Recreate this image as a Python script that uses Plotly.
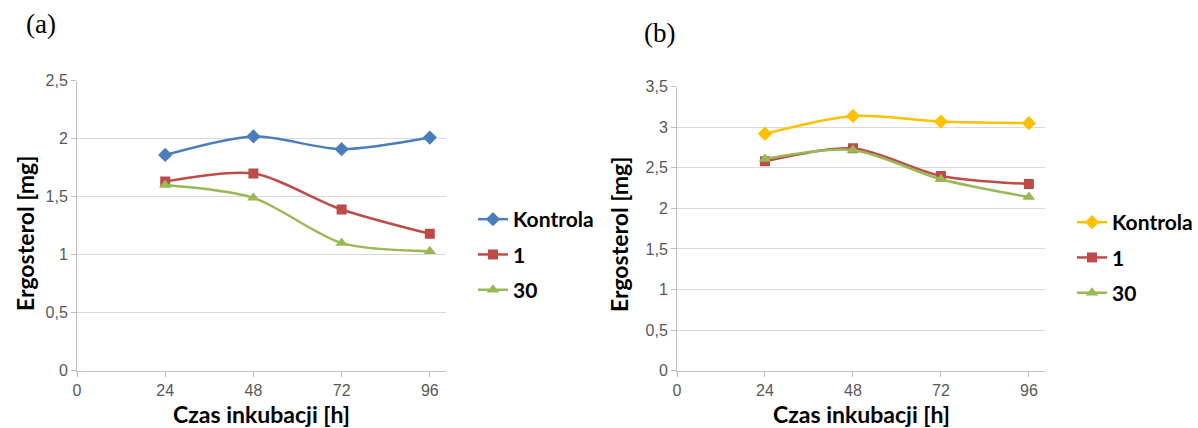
import plotly.graph_objects as go

hours = [24, 48, 72, 96]
series_names = ["Kontrola", "1", "30"]
a_kontrola = [1.86, 2.02, 1.91, 2.01]
a_1 = [1.63, 1.70, 1.39, 1.18]
a_30 = [1.60, 1.49, 1.10, 1.03]
b_kontrola = [2.92, 3.14, 3.07, 3.05]
b_1 = [2.58, 2.74, 2.40, 2.30]
b_30 = [2.61, 2.72, 2.36, 2.14]

x_ticks = [0, 24, 48, 72, 96]
a_yticks = [0, 0.5, 1, 1.5, 2, 2.5]
a_yticklabels = ["0", "0,5", "1", "1,5", "2", "2,5"]
b_yticks = [0, 0.5, 1, 1.5, 2, 2.5, 3, 3.5]
b_yticklabels = ["0", "0,5", "1", "1,5", "2", "2,5", "3", "3,5"]
x_title = "Czas inkubacji [h]"
y_title = "Ergosterol [mg]"

BLUE = "#4A7EBB"
YELLOW = "#FFC000"
RED = "#BE4B48"
GREEN = "#98B954"

fig = go.Figure()

def add(x, y, name, color, symbol, size, xa, ya, legend, group):
    fig.add_trace(go.Scatter(
        x=x, y=y, name=name, mode="lines+markers",
        line=dict(color=color, width=2.5, shape="spline", smoothing=0.8),
        marker=dict(symbol=symbol, size=size, color=color),
        xaxis=xa, yaxis=ya, legend=legend, legendgroup=group))

add(hours, a_kontrola, series_names[0], BLUE, "diamond", 11, "x", "y", "legend", "a0")
add(hours, a_1, series_names[1], RED, "square", 10, "x", "y", "legend", "a1")
add(hours, a_30, series_names[2], GREEN, "triangle-up", 11, "x", "y", "legend", "a2")
add(hours, b_kontrola, series_names[0], YELLOW, "diamond", 11, "x2", "y2", "legend2", "b0")
add(hours, b_1, series_names[1], RED, "square", 10, "x2", "y2", "legend2", "b1")
add(hours, b_30, series_names[2], GREEN, "triangle-up", 11, "x2", "y2", "legend2", "b2")

tickfont = dict(family="Liberation Sans, Arial", size=16, color="#595959")
titlefont = dict(family="Lato, Calibri, sans-serif", size=23, color="black", weight="bold")
legfont = dict(family="Lato, Calibri, sans-serif", size=21, color="black", weight="bold")
axcommon = dict(showline=True, linecolor="#BFBFBF", linewidth=1, ticks="outside",
                ticklen=5, tickcolor="#BFBFBF", tickfont=tickfont, zeroline=False,
                automargin=False)

W, H = 1198, 428
def fx(px): return px / W
def fy(py): return 1 - py / H

def ann(text, x, y, font, angle=0, xanchor="center"):
    return dict(text=text, x=fx(x), y=fy(y), xref="paper", yref="paper",
                xanchor=xanchor, yanchor="middle", showarrow=False,
                textangle=angle, font=font)

serif = dict(family="Liberation Serif, Times New Roman", size=27, color="black")

fig.update_layout(
    width=W, height=H, margin=dict(l=0, r=0, t=0, b=0),
    plot_bgcolor="white", paper_bgcolor="white", showlegend=True,
    xaxis=dict(domain=[fx(77), fx(446)], range=[0, 100.4], tickvals=x_ticks,
               ticktext=[str(v) for v in x_ticks], showgrid=False, anchor="y", **axcommon),
    yaxis=dict(domain=[fy(370.7), fy(80.7)], range=[0, 2.5], tickvals=a_yticks,
               ticktext=a_yticklabels, showgrid=True, gridcolor="#D9D9D9", anchor="x", **axcommon),
    xaxis2=dict(domain=[fx(677), fx(1045)], range=[0, 100.4], tickvals=x_ticks,
                ticktext=[str(v) for v in x_ticks], showgrid=False, anchor="y2", **axcommon),
    yaxis2=dict(domain=[fy(370.7), fy(86.7)], range=[0, 3.5], tickvals=b_yticks,
                ticktext=b_yticklabels, showgrid=True, gridcolor="#D9D9D9", anchor="x2", **axcommon),
    legend=dict(x=fx(473), y=fy(199), xanchor="left", yanchor="top", font=legfont,
                itemwidth=30, tracegroupgap=5, traceorder="grouped", bgcolor="rgba(0,0,0,0)"),
    legend2=dict(x=fx(1072), y=fy(202), xanchor="left", yanchor="top", font=legfont,
                 itemwidth=30, tracegroupgap=5, traceorder="grouped", bgcolor="rgba(0,0,0,0)"),
    annotations=[
        ann("(a)", 24, 24, serif, xanchor="left"),
        ann("(b)", 642, 33, serif, xanchor="left"),
        ann(x_title, 261.5, 414, titlefont),
        ann(x_title, 861, 414, titlefont),
        ann(y_title, 25, 234, titlefont, angle=-90),
        ann(y_title, 619, 235, titlefont, angle=-90),
    ],
)

fig.write_html("out.html")
